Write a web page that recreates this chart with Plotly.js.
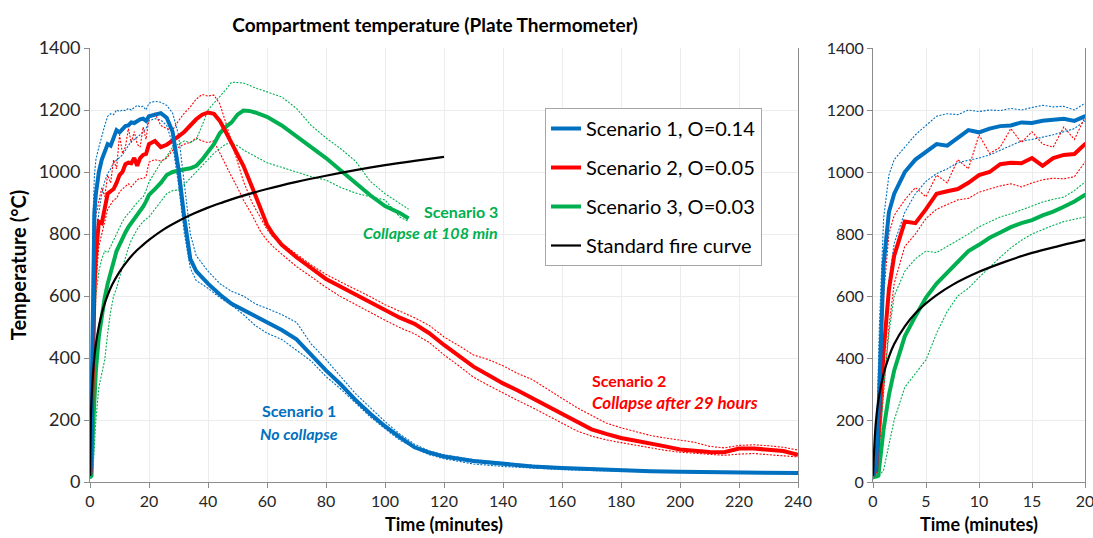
<!DOCTYPE html>
<html>
<head>
<meta charset="utf-8">
<script src="https://cdn.plot.ly/plotly-3.0.1.min.js"></script>
<style>html,body{margin:0;padding:0;background:#fff;}#chart{width:1093px;height:538px;}</style>
</head>
<body>
<div id="chart"></div>
<script>
// ---------- DATA ----------
const chartTitle = "Compartment temperature (Plate Thermometer)";
const seriesNames = ["Scenario 1, O=0.14", "Scenario 2, O=0.05", "Scenario 3, O=0.03", "Standard fire curve"];

// Scenario 1 (time in minutes, temperature in °C)
const s1Time = [0,0.3,0.6,1,1.5,2,3,4,5,6,7,8,9,10,11,12,13,14,15,16,17,18,19,20,
  22,24,26,28,30,32,34,36,40,44,48,52,56,60,
  65,70,75,80,85,90,95,100,105,110,115,120,
  130,140,150,160,170,180,190,200,210,220,230,240];
const s1Mean = [20,50,300,700,870,930,1000,1040,1065,1090,1085,1110,1135,1128,1140,1148,1150,1160,1158,1165,1170,1172,1165,1180,
  1185,1190,1175,1130,1010,850,720,680,640,605,575,555,535,515,
  490,460,410,360,315,265,220,180,145,112,95,82,
  68,58,50,45,41,38,35,33,32,31,30,29];
const s1High = [20,80,500,850,990,1040,1080,1120,1150,1180,1188,1185,1200,1195,1200,1198,1205,1200,1208,1215,1210,1212,1200,1222,
  1228,1225,1215,1190,1120,960,800,730,680,640,615,600,575,560,
  540,515,445,395,340,285,240,195,155,122,100,88,
  72,62,54,48,44,40,37,35,33,32,31,30];
const s1Low = [20,30,150,450,650,770,870,930,970,995,1010,1030,1038,1045,1055,1070,1085,1100,1105,1112,1120,1130,1140,1165,
  1172,1168,1150,1090,960,800,690,650,625,595,570,540,505,480,
  460,425,390,340,300,255,210,172,135,110,88,75,
  58,50,44,40,37,35,33,31,30,29,28,27];

// Scenario 2
const s2Time = [0,0.3,0.6,1,1.5,2,3,4,5,6,7,8,9,10,11,12,13,14,15,16,17,18,19,20,
  22,24,26,28,30,32,34,36,38,40,42,44,46,48,50,52,55,58,60,62,65,
  70,75,80,85,90,95,100,105,110,115,120,125,130,135,140,145,150,155,160,165,
  170,175,180,185,190,195,200,205,210,215,220,225,230,235,240];
const s2Mean = [20,40,200,420,620,730,840,835,880,930,938,945,965,990,1000,1025,1030,1028,1045,1020,1045,1055,1058,1090,
  1100,1080,1088,1100,1115,1130,1150,1170,1185,1192,1188,1165,1130,1095,1060,1020,950,880,830,800,765,
  725,690,655,630,605,580,555,530,510,480,442,405,372,345,318,295,270,245,220,192,
  170,155,142,133,125,115,105,100,97,96,108,108,104,100,88];
const s2High = [20,60,350,600,800,860,910,950,920,990,965,1040,1010,1120,1060,1080,1140,1095,1130,1090,1080,1145,1105,1177,
  1190,1150,1140,1135,1165,1190,1210,1235,1250,1245,1248,1220,1160,1095,1030,970,900,850,815,790,770,
  735,700,670,645,622,598,572,550,530,505,468,440,410,395,375,350,330,300,270,240,
  215,190,175,162,150,142,136,128,115,110,118,120,117,112,103];
const s2Low = [20,30,120,300,500,640,760,800,850,880,895,910,915,935,945,955,962,952,965,975,980,978,985,1032,
  1040,1035,1045,1070,1080,1090,1095,1110,1100,1095,1100,1060,1020,985,950,910,860,805,780,760,735,
  695,662,628,598,572,547,522,498,478,450,410,375,338,312,287,263,240,215,188,165,
  148,136,127,118,110,102,96,92,88,86,90,92,88,85,81];

// Scenario 3
const s3Time = [0,0.5,1,1.5,2,3,4,5,6,7,8,9,10,11,12,13,14,15,16,17,18,19,20,
  22,24,26,28,30,32,34,36,38,40,42,44,46,48,50,52,54,56,58,60,
  65,70,75,80,85,90,95,100,105,108];
const s3Mean = [15,20,170,280,360,470,535,595,640,675,710,745,765,788,805,822,835,845,860,872,888,905,926,
  945,965,990,1000,1005,1008,1012,1020,1040,1065,1090,1125,1145,1160,1185,1198,1197,1192,1185,1178,
  1150,1115,1080,1045,1005,965,925,890,868,850];
const s3High = [15,40,300,480,600,680,720,745,740,760,780,800,823,840,855,865,877,890,903,912,919,940,968,
  1000,1030,1050,1080,1090,1100,1095,1105,1150,1200,1222,1242,1265,1290,1288,1287,1280,1271,1265,1258,
  1242,1205,1150,1110,1075,1035,970,930,900,880];
const s3Low = [10,15,39,120,200,306,350,394,480,550,600,625,660,694,725,755,780,800,815,828,840,848,855,
  880,905,930,940,942,960,980,997,1020,1040,1061,1075,1090,1093,1085,1071,1060,1050,1040,1030,
  1016,1000,985,974,950,932,920,910,855,840];

// Standard fire curve
const stdTime = [0,0.25,0.5,1,1.5,2,3,4,5,6,7.5,10,12.5,15,17.5,20,25,30,35,40,45,50,60,70,80,90,100,110,120];
const stdTemp = [20,185,261,349,404,445,502,544,576,603,636,678,711,739,761,781,815,842,865,885,902,918,945,968,988,1006,1022,1036,1049];

// ---------- STYLE ----------
const FONT = "Lato, 'Open Sans', sans-serif";
const BLUE = "#0070C0", RED = "#FF0000", GREEN = "#00B050", BLACK = "#000000";

const scenarios = [
  {t: s1Time, m: s1Mean, h: s1High, l: s1Low, c: BLUE, name: seriesNames[0], rank: 1},
  {t: s2Time, m: s2Mean, h: s2High, l: s2Low, c: RED, name: seriesNames[1], rank: 2},
  {t: s3Time, m: s3Mean, h: s3High, l: s3Low, c: GREEN, name: seriesNames[2], rank: 3}
];

const traces = [];
function addPanel(xa, ya, legend) {
  scenarios.forEach(s => {
    [s.h, s.l].forEach(v => traces.push({
      x: s.t, y: v, xaxis: xa, yaxis: ya, type: "scatter", mode: "lines",
      line: {color: s.c, width: 1.1, dash: "2px,1.5px"}, showlegend: false, hoverinfo: "skip"
    }));
  });
  [2, 1, 0].forEach(i => {
    const s = scenarios[i];
    traces.push({
      x: s.t, y: s.m, xaxis: xa, yaxis: ya, type: "scatter", mode: "lines",
      name: s.name, legendrank: s.rank, legendgroup: "g" + s.rank,
      line: {color: s.c, width: 4}, showlegend: legend
    });
  });
  traces.push({
    x: stdTime, y: stdTemp, xaxis: xa, yaxis: ya, type: "scatter", mode: "lines",
    name: seriesNames[3], legendrank: 4, legendgroup: "g4",
    line: {color: BLACK, width: 2.2, shape: "spline"}, showlegend: legend
  });
}
addPanel("x", "y", true);
addPanel("x2", "y2", false);

const W = 1093, H = 538;
const axisCommon = {
  showline: true, linecolor: "#8c8c8c", linewidth: 1,
  ticks: "outside", ticklen: 5, tickcolor: "#8c8c8c",
  showgrid: true, gridcolor: "#ececec", gridwidth: 1,
  zeroline: false, fixedrange: true, ticklabeloverflow: "allow"
};
const yDomain = [(H - 482) / H, (H - 48) / H];

const layout = {
  width: W, height: H,
  margin: {l: 0, r: 0, t: 0, b: 0},
  paper_bgcolor: "#ffffff", plot_bgcolor: "#ffffff",
  font: {family: FONT, color: "#1a1a1a"},
  title: {
    text: "<b>" + chartTitle + "</b>",
    x: 435 / W, xanchor: "center", y: 1 - 25 / H, yanchor: "middle",
    font: {family: FONT, size: 19, color: "#000"}
  },
  xaxis: Object.assign({}, axisCommon, {
    domain: [90 / W, 798 / W], range: [0, 240], dtick: 20, tick0: 0,
    tickfont: {size: 16, family: FONT, color: "#262626"},
    title: {text: "<b>Time (minutes)</b>", font: {size: 18, family: FONT, color: "#000"}, standoff: 9},
    anchor: "y"
  }),
  yaxis: Object.assign({}, axisCommon, {
    domain: yDomain, range: [0, 1400], dtick: 200, tick0: 0, mirror: true,
    tickfont: {size: 18, family: FONT, color: "#262626"},
    title: {text: "<b>Temperature (°C)</b>", font: {size: 20, family: FONT, color: "#000"}, standoff: 6},
    anchor: "x"
  }),
  xaxis2: Object.assign({}, axisCommon, {
    domain: [873 / W, 1085 / W], range: [0, 20], dtick: 5, tick0: 0,
    tickfont: {size: 16, family: FONT, color: "#262626"},
    title: {text: "<b>Time (minutes)</b>", font: {size: 18, family: FONT, color: "#000"}, standoff: 9},
    anchor: "y2"
  }),
  yaxis2: Object.assign({}, axisCommon, {
    domain: yDomain, range: [0, 1400], dtick: 200, tick0: 0, mirror: true,
    tickfont: {size: 16, family: FONT, color: "#262626"},
    anchor: "x2"
  }),
  legend: {
    x: 545 / W, y: 1 - 108 / H, xanchor: "left", yanchor: "top",
    bgcolor: "#ffffff", bordercolor: "#a6a6a6", borderwidth: 1,
    font: {size: 20, family: FONT, color: "#000"},
    traceorder: "grouped", tracegroupgap: 10, itemwidth: 30
  },
  annotations: [
    {xref: "x", yref: "y", x: 71, y: 232, text: "<b>Scenario 1</b>", showarrow: false, xanchor: "center",
     font: {size: 16, family: FONT, color: BLUE}},
    {xref: "x", yref: "y", x: 71, y: 158, text: "<b><i>No collapse</i></b>", showarrow: false, xanchor: "center",
     font: {size: 16, family: FONT, color: BLUE}},
    {xref: "x", yref: "y", x: 169.5, y: 329, text: "<b>Scenario 2</b>", showarrow: false, xanchor: "left",
     font: {size: 16, family: FONT, color: RED}},
    {xref: "x", yref: "y", x: 169.5, y: 258, text: "<b><i>Collapse after 29 hours</i></b>", showarrow: false, xanchor: "left",
     font: {size: 17, family: FONT, color: RED}},
    {xref: "x", yref: "y", x: 139, y: 871, text: "<b>Scenario 3</b>", showarrow: false, xanchor: "right",
     font: {size: 16, family: FONT, color: GREEN}},
    {xref: "x", yref: "y", x: 139, y: 806, text: "<b><i>Collapse at 108 min</i></b>", showarrow: false, xanchor: "right",
     font: {size: 16, family: FONT, color: GREEN}}
  ]
};

Plotly.newPlot("chart", traces, layout, {displayModeBar: false, staticPlot: true});
</script>
</body>
</html>
